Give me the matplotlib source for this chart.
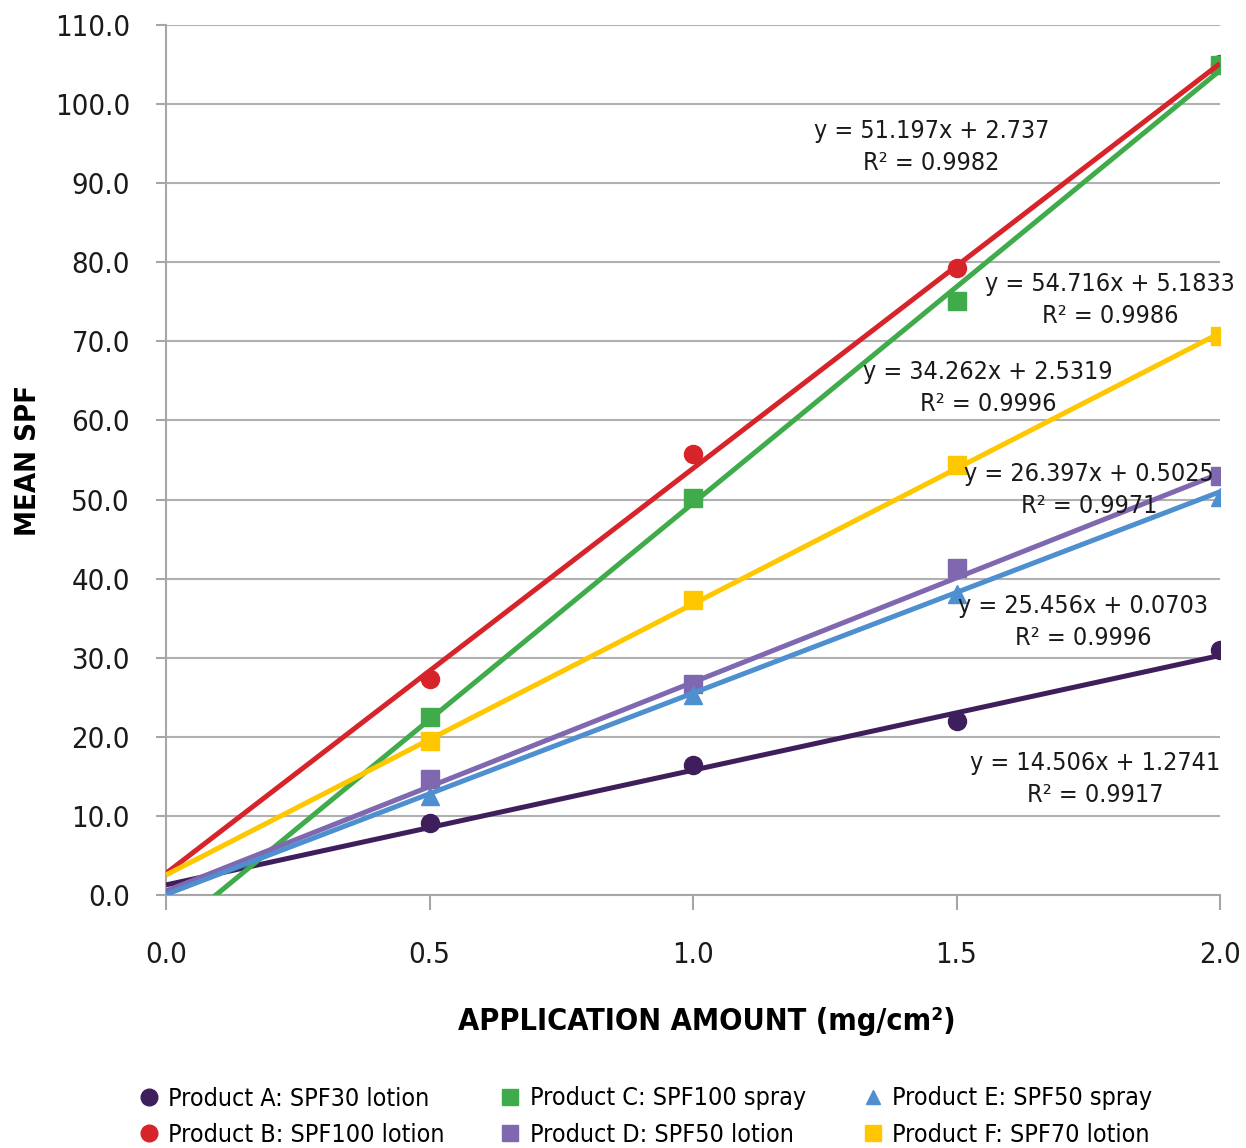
import numpy as np
import matplotlib.pyplot as plt
from matplotlib.lines import Line2D

plt.rcParams['font.family'] = ['DejaVu Sans']
plt.rcParams['font.stretch'] = 'condensed'

# data
amount = [0.5, 1.0, 1.5, 2.0]
products = ['Product A: SPF30 lotion', 'Product B: SPF100 lotion',
            'Product C: SPF100 spray', 'Product D: SPF50 lotion',
            'Product E: SPF50 spray', 'Product F: SPF70 lotion']
spf_a = [9.1, 16.4, 22.0, 31.0]
spf_b = [27.3, 55.8, 79.3, 105.1]
spf_c = [22.5, 50.2, 75.1, 104.9]
spf_d = [14.7, 26.7, 41.3, 53.0]
spf_e = [12.5, 25.3, 38.1, 50.3]
spf_f = [19.5, 37.3, 54.4, 70.7]

# trendline coefficients (as labelled; C's line crosses zero near x=0.1)
slopes = [14.506, 51.197, 54.716, 26.397, 25.456, 34.262]
intercepts = [1.2741, 2.737, -5.1833, 0.5025, 0.0703, 2.5319]
eq_texts = ['y = 14.506x + 1.2741\nR² = 0.9917',
            'y = 51.197x + 2.737\nR² = 0.9982',
            'y = 54.716x + 5.1833\nR² = 0.9986',
            'y = 26.397x + 0.5025\nR² = 0.9971',
            'y = 25.456x + 0.0703\nR² = 0.9996',
            'y = 34.262x + 2.5319\nR² = 0.9996']
eq_pos = [(1.763, 14.7), (1.452, 94.6), (1.791, 75.2),
          (1.751, 51.2), (1.740, 34.5), (1.560, 64.1)]

colors = ['#3e1f5c', '#d7242b', '#3fab4a', '#8068b0', '#4e8fcf', '#ffc700']
markers = ['o', 'o', 's', 's', '^', 's']
series = [spf_a, spf_b, spf_c, spf_d, spf_e, spf_f]

fig = plt.figure(figsize=(12.46, 11.48), dpi=100)
ax = fig.add_axes([166/1246, 1 - 895/1148, 1054/1246, 870/1148])

xs = np.array([0.0, 2.0])
for i in range(6):
    ax.plot(amount, series[i], linestyle='none', marker=markers[i],
            markersize=13, color=colors[i], zorder=3)
    ax.plot(xs, slopes[i] * xs + intercepts[i], color=colors[i],
            linewidth=3.6, zorder=4, solid_capstyle='butt')

for i in range(6):
    ax.text(eq_pos[i][0], eq_pos[i][1], eq_texts[i], ha='center', va='center',
            fontsize=18, color='#1a1a1a', linespacing=1.4, zorder=5)

ax.set_xlim(0, 2.0)
ax.set_ylim(0, 110)
ax.set_xticks([0.0, 0.5, 1.0, 1.5, 2.0])
ax.set_xticklabels(['0.0', '0.5', '1.0', '1.5', '2.0'])
ax.set_yticks(np.arange(0, 111, 10))
ax.set_yticklabels(['%.1f' % v for v in np.arange(0, 111, 10)])
ax.yaxis.grid(True, color='#b0b0b0', linewidth=1.5)
ax.set_axisbelow(True)
for s in ['top', 'right']:
    ax.spines[s].set_visible(False)
for s in ['left', 'bottom']:
    ax.spines[s].set_color('#a6a6a6')
    ax.spines[s].set_linewidth(1.5)
ax.tick_params(axis='x', length=11, width=1.5, color='#a6a6a6', pad=22,
               labelsize=21, labelcolor='#1a1a1a')
ax.tick_params(axis='y', length=7, width=1.5, color='#a6a6a6', pad=19,
               labelsize=21, labelcolor='#1a1a1a')

fig.text(707/1246, 1 - 1022/1148, 'APPLICATION AMOUNT (mg/cm²)', ha='center',
         va='center', fontsize=22, fontweight='bold')
fig.text(28/1246, 1 - 460/1148, 'MEAN SPF', ha='center', va='center',
         rotation=90, fontsize=21, fontweight='bold')

handles = [Line2D([], [], linestyle='none', marker=markers[i], color=colors[i],
                  markersize=12 if markers[i] != '^' else 10) for i in range(6)]
col_x = [111, 472, 835]
for j in range(3):
    fig.legend(handles[2*j:2*j+2], products[2*j:2*j+2], loc='upper left',
               bbox_to_anchor=(col_x[j]/1246, 1 - 1064/1148), frameon=False,
               fontsize=18, handletextpad=0.2, labelspacing=0.5,
               handlelength=1.2)

fig.savefig('out.png', dpi=100)
